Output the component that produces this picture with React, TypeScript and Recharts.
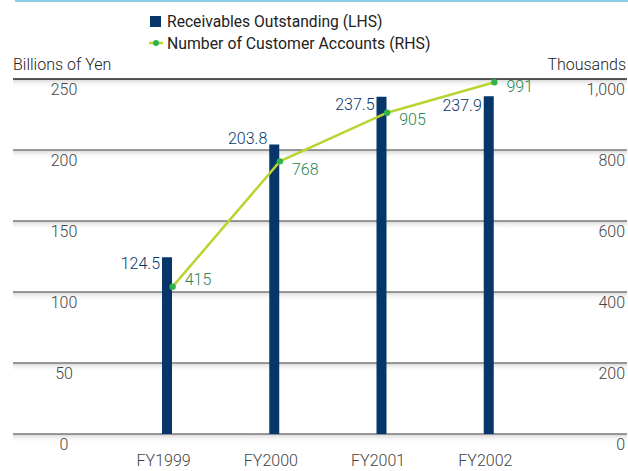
import React from 'react';
import { ComposedChart, Bar, Line, XAxis, YAxis, CartesianGrid, LabelList } from 'recharts';

const years = ['FY1999', 'FY2000', 'FY2001', 'FY2002'];
const receivables = [124.5, 203.8, 237.5, 237.9]; // billions of yen
const accounts = [415, 768, 905, 991]; // thousands
const leftTicks = [0, 50, 100, 150, 200, 250];
const rightTicks = [0, 200, 400, 600, 800, 1000];

// vertical nudges for the value labels so they clear the grid and the line
const barLabelDy = [8, -5, 9, 11];
const lineLabelDy = [-6, 9, 8, 6];

const chartData = years.map((year, i) => ({
  year,
  receivables: receivables[i],
  accounts: accounts[i],
}));

const NAVY = '#06366a';
const LIME = '#b9d532';
const DOT = '#2fb34b';
const GREEN_TEXT = '#2a8552';
const TEXT = '#444';
const NUM_FONT = 'Roboto, "Liberation Sans", sans-serif';

const GridLine = (props: any) => {
  const { x1, x2, y1 } = props;
  const isTop = y1 <= 80;
  return (
    <g key={`grid-${y1}`}>
      <rect x={x1} y={y1} width={x2 - x1} height={9} fill="url(#gridShade)" />
      <line x1={x1} x2={x2} y1={y1} y2={y1} stroke={isTop ? '#222' : '#7a7a7a'} strokeWidth={1.5} />
    </g>
  );
};

const LeftTick = ({ y, payload }: any) => (
  <text x={64} y={y + 12} textAnchor="middle" dominantBaseline="middle"
    fontFamily={NUM_FONT} fontWeight={300} fontSize={16} fill={TEXT}>
    {payload.value}
  </text>
);

const RightTick = ({ y, payload }: any) => (
  <text x={625} y={y + 12} textAnchor="end" dominantBaseline="middle"
    fontFamily={NUM_FONT} fontWeight={300} fontSize={16} fill={TEXT}>
    {payload.value.toLocaleString('en-US')}
  </text>
);

const YearTick = ({ x, y, payload }: any) => (
  <text x={x - 3} y={y + 20} textAnchor="middle" dominantBaseline="middle"
    fontFamily={NUM_FONT} fontWeight={300} fontSize={16} fill={TEXT}>
    {payload.value}
  </text>
);

const BarValue = ({ x, y, value, index }: any) => (
  <text x={x - 2} y={y + barLabelDy[index]} textAnchor="end" dominantBaseline="middle"
    fontFamily={NUM_FONT} fontWeight={300} fontSize={16} fill={NAVY}>
    {value.toFixed(1)}
  </text>
);

const LineValue = ({ x, y, value, index }: any) => (
  <text x={x + 12} y={y + lineLabelDy[index]} textAnchor="start" dominantBaseline="middle"
    fontFamily={NUM_FONT} fontWeight={300} fontSize={16} fill={GREEN_TEXT}>
    {value}
  </text>
);

const condensed = (scale: number, origin = 'left center'): React.CSSProperties => ({
  display: 'inline-block',
  fontFamily: NUM_FONT,
  color: '#222',
  transform: `scaleX(${scale})`,
  transformOrigin: origin,
  whiteSpace: 'nowrap',
});

const App: React.FC = () => {
  return (
    <div style={{ position: 'absolute', left: 0, top: 0, width: 628, height: 471, background: '#fff' }}>
      <div style={{ position: 'absolute', left: 15, top: 0, width: 613, height: 2, background: '#8ccfec' }} />

      {/* legend */}
      <div style={{ position: 'absolute', left: 149, top: 10, lineHeight: '22px', fontSize: 17 }}>
        <div style={{ display: 'flex', alignItems: 'center' }}>
          <span style={{ display: 'inline-block', width: 11, height: 11, background: NAVY, margin: '0 6px 0 1px' }} />
          <span style={condensed(0.92)}>Receivables Outstanding (LHS)</span>
        </div>
        <div style={{ display: 'flex', alignItems: 'center' }}>
          <svg width={14} height={8} style={{ marginRight: 4 }}>
            <line x1={0} x2={14} y1={4} y2={4} stroke={LIME} strokeWidth={2.5} />
            <circle cx={7} cy={4} r={3} fill={DOT} />
          </svg>
          <span style={condensed(0.93)}>Number of Customer Accounts (RHS)</span>
        </div>
      </div>

      <div style={{ ...condensed(1), position: 'absolute', left: 13, top: 55, fontSize: 16, fontWeight: 300, lineHeight: '20px' }}>
        Billions of Yen
      </div>
      <div style={{ ...condensed(1, 'right center'), position: 'absolute', right: 2, top: 55, fontSize: 16, fontWeight: 300, lineHeight: '20px' }}>
        Thousands
      </div>

      <ComposedChart width={628} height={471} data={chartData}
        margin={{ top: 79, right: 0, bottom: 0, left: 12 }}
        style={{ position: 'absolute', left: 0, top: 0 }}>
        <defs>
          <linearGradient id="gridShade" x1="0" y1="0" x2="0" y2="1">
            <stop offset="0%" stopColor="#cfcfcf" stopOpacity={0.9} />
            <stop offset="100%" stopColor="#ffffff" stopOpacity={0} />
          </linearGradient>
        </defs>
        <CartesianGrid yAxisId="left" vertical={false} horizontal={GridLine} />
        <XAxis dataKey="year" xAxisId="bars" height={37} axisLine={false} tickLine={false}
          padding={{ left: 100, right: 85 }} tick={YearTick} interval={0} />
        <XAxis dataKey="year" xAxisId="line" hide padding={{ left: 106, right: 79 }} />
        <YAxis yAxisId="left" width={1} domain={[0, 250]} ticks={leftTicks} interval={0}
          axisLine={false} tickLine={false} tick={LeftTick} />
        <YAxis yAxisId="right" orientation="right" width={1} domain={[0, 1000]} ticks={rightTicks}
          interval={0} axisLine={false} tickLine={false} tick={RightTick} />
        <Bar dataKey="receivables" xAxisId="bars" yAxisId="left" fill={NAVY} barSize={10}
          isAnimationActive={false}>
          <LabelList dataKey="receivables" content={BarValue} />
        </Bar>
        <Line dataKey="accounts" xAxisId="line" yAxisId="right" type="linear" stroke={LIME}
          strokeWidth={2.5} dot={{ r: 3.2, fill: DOT, stroke: 'none' }} activeDot={false}
          isAnimationActive={false}>
          <LabelList dataKey="accounts" content={LineValue} />
        </Line>
      </ComposedChart>
    </div>
  );
};

export default App;
